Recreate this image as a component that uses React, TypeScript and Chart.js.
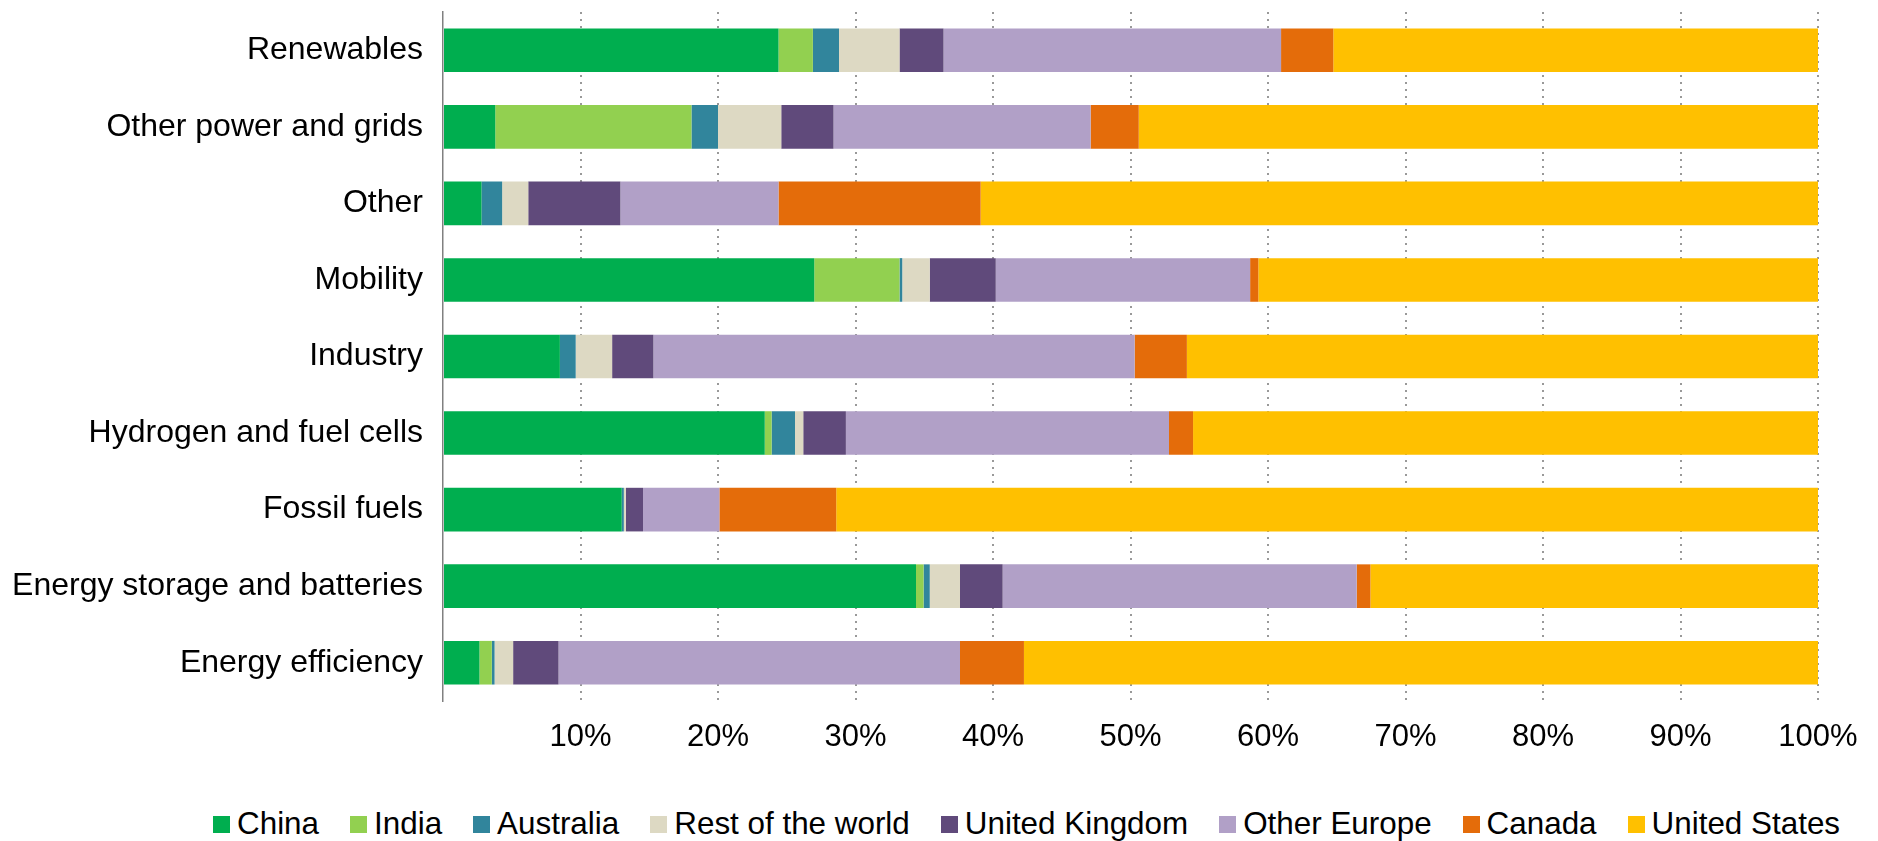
import React, { useEffect, useRef } from "react";
import { Chart, registerables } from "chart.js";

Chart.register(...registerables);

const categories = [
  "Renewables",
  "Other power and grids",
  "Other",
  "Mobility",
  "Industry",
  "Hydrogen and fuel cells",
  "Fossil fuels",
  "Energy storage and batteries",
  "Energy efficiency",
];

const seriesNames = [
  "China",
  "India",
  "Australia",
  "Rest of the world",
  "United Kingdom",
  "Other Europe",
  "Canada",
  "United States",
];

const seriesColors = [
  "#00AE4F",
  "#92D050",
  "#31859C",
  "#DDD9C3",
  "#604A7B",
  "#B1A0C7",
  "#E46C0A",
  "#FFC000",
];

const china = [24.4, 3.8, 2.8, 27.0, 8.5, 23.4, 13.0, 34.4, 2.65];
const india = [2.5, 14.27, 0, 6.2, 0, 0.5, 0, 0.55, 0.9];
const australia = [1.9, 1.93, 1.5, 0.2, 1.15, 1.7, 0.15, 0.45, 0.2];
const restOfWorld = [4.4, 4.6, 1.9, 2.0, 2.65, 0.6, 0.15, 2.2, 1.35];
const unitedKingdom = [3.2, 3.8, 6.7, 4.8, 3.0, 3.1, 1.25, 3.1, 3.3];
const otherEurope = [24.55, 18.7, 11.5, 18.5, 35.0, 23.5, 5.55, 25.75, 29.2];
const canada = [3.8, 3.5, 14.7, 0.6, 3.8, 1.75, 8.5, 1.0, 4.65];
const unitedStates = [35.25, 49.4, 60.9, 40.7, 45.9, 45.45, 71.4, 32.55, 57.75];

const seriesValues = [
  china,
  india,
  australia,
  restOfWorld,
  unitedKingdom,
  otherEurope,
  canada,
  unitedStates,
];

const xTicks = [0, 10, 20, 30, 40, 50, 60, 70, 80, 90, 100];

const FONT = "'Liberation Sans', Arial, sans-serif";

export default function App() {
  const canvasRef = useRef<HTMLCanvasElement | null>(null);

  useEffect(() => {
    document.documentElement.style.overflow = "hidden";
    document.body.style.overflow = "hidden";
    document.body.style.margin = "0";
    const canvas = canvasRef.current;
    if (!canvas) return;
    const chart = new Chart(canvas, {
      type: "bar",
      data: {
        labels: categories,
        datasets: seriesNames.map((name, i) => ({
          label: name,
          data: seriesValues[i],
          backgroundColor: seriesColors[i],
          borderWidth: 0,
          categoryPercentage: 1,
          barPercentage: 0.57,
        })),
      },
      options: {
        indexAxis: "y",
        responsive: false,
        animation: false,
        events: [],
        layout: { padding: { left: 0, right: 52, top: 4, bottom: 0 } },
        plugins: {
          legend: { display: false },
          tooltip: { enabled: false },
          title: { display: false },
        },
        scales: {
          x: {
            stacked: true,
            min: 0,
            max: 100,
            afterBuildTicks: (scale: any) => {
              scale.ticks = xTicks.map((v) => ({ value: v }));
            },
            afterFit: (scale: any) => {
              scale.height = 60;
              scale.paddingLeft = 0;
              scale.paddingRight = 0;
            },
            ticks: {
              font: { family: FONT, size: 31 },
              color: "#000000",
              padding: 18,
              maxRotation: 0,
              callback: (v: any) => (Number(v) === 0 ? "" : v + "%"),
            },
            grid: {
              drawTicks: false,
              lineWidth: 2,
              color: (ctx: any) =>
                ctx.tick && ctx.tick.value === 0 ? "rgba(0,0,0,0)" : "#999999",
            },
            border: { display: false, dash: [2, 5] },
          },
          y: {
            stacked: true,
            afterFit: (scale: any) => {
              scale.width = 435;
              scale.paddingTop = 0;
              scale.paddingBottom = 0;
            },
            ticks: {
              font: { family: FONT, size: 32 },
              color: "#000000",
              padding: 20,
            },
            grid: { display: false, drawTicks: false },
            border: { display: true, color: "#808080", width: 1.5 },
          },
        },
      },
    });
    return () => chart.destroy();
  }, []);

  return (
    <div style={{ position: "relative", width: 1878, height: 841, overflow: "hidden" }}>
      <canvas
        ref={canvasRef}
        width={1862}
        height={753}
        style={{ position: "absolute", left: 8, top: 8, width: 1862, height: 753 }}
      />
      <div
        style={{
          position: "absolute",
          left: 213,
          top: 806,
          height: 36,
          display: "flex",
          alignItems: "center",
          whiteSpace: "nowrap",
          fontFamily: FONT,
          fontSize: 31.4,
          color: "#000000",
        }}
      >
        {seriesNames.map((name, i) => (
          <div
            key={name}
            style={{
              display: "flex",
              alignItems: "center",
              marginRight: i < seriesNames.length - 1 ? 31 : 0,
            }}
          >
            <span
              style={{
                display: "inline-block",
                width: 17,
                height: 17,
                background: seriesColors[i],
                marginRight: 7,
              }}
            />
            <span style={{ lineHeight: "36px" }}>{name}</span>
          </div>
        ))}
      </div>
    </div>
  );
}
